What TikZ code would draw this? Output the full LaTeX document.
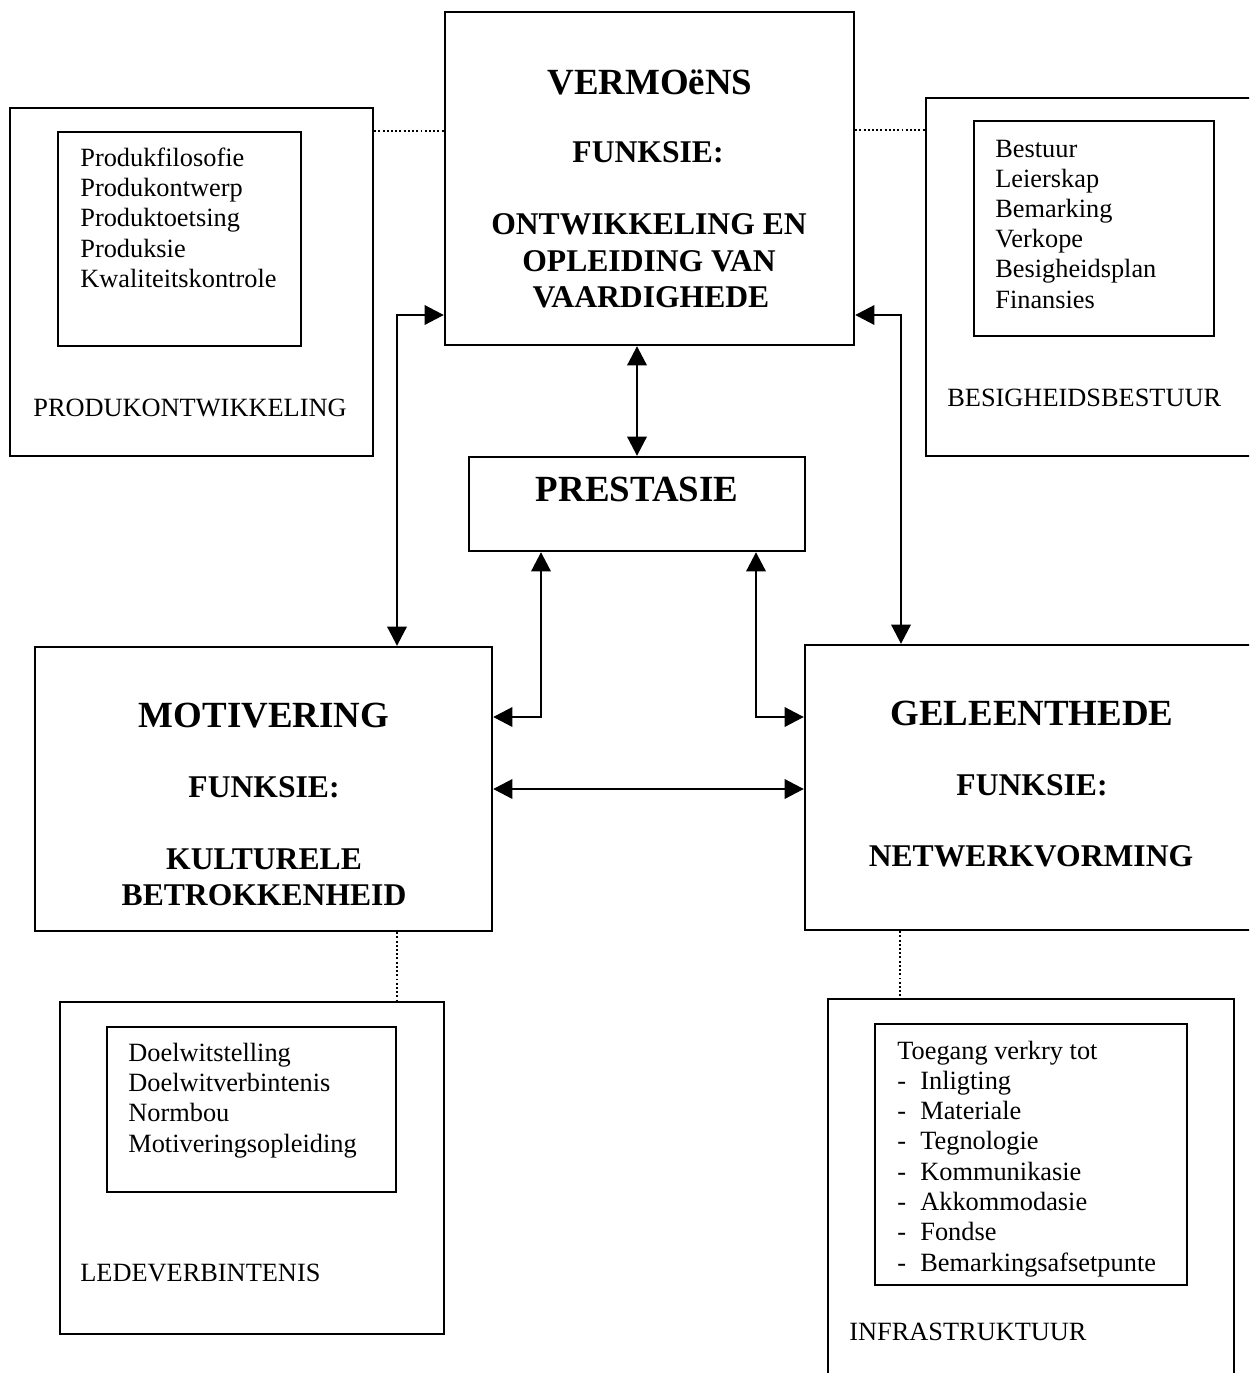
\documentclass[tikz,border=0pt]{standalone}
\usepackage{fontspec}
\setmainfont{Liberation Serif}
\usetikzlibrary{arrows.meta,fit}
\begin{document}
\begin{tikzpicture}[x=0.02cm,y=-0.02cm,
  box/.style={draw, line width=1.3pt, inner sep=0pt},
  dots/.style={line width=0.9pt, dash pattern=on 1.1pt off 1.3pt},
  link/.style={line width=1.6pt,
    {Triangle[length=11pt,width=11pt]}-{Triangle[length=11pt,width=11pt]}},
  head/.style={font=\fontsize{21}{25}\selectfont\bfseries, anchor=base, inner sep=0pt},
  sub/.style={font=\fontsize{18}{22}\selectfont\bfseries, anchor=base, inner sep=0pt},
  item/.style={font=\fontsize{15}{18}\selectfont, anchor=base west, inner sep=0pt},
]
\path[use as bounding box] (0,0) rectangle (1249,1373);
\clip (0,0) rectangle (1249,1373);

% main function boxes
\node[box, fit={(445,12) (854,345)}] (verm) {};
\node[box, fit={(469,457) (805,551)}] (prest) {};
\node[box, fit={(35,647) (492,931)}] (motiv) {};
\node[box, fit={(805,645) (1262,930)}] (geleen) {};

% surrounding area boxes with their inner lists
\node[box, fit={(10,108) (373,456)}] (produk) {};
\node[box, fit={(58,132) (301,346)}] (produkin) {};
\node[box, fit={(926,98) (1262,456)}] (besig) {};
\node[box, fit={(974,121) (1214,336)}] (besigin) {};
\node[box, fit={(60,1002) (444,1334)}] (lede) {};
\node[box, fit={(107,1027) (396,1192)}] (ledein) {};
\node[box, fit={(828,999) (1234,1395)}] (infra) {};
\node[box, fit={(875,1024) (1187,1285)}] (infrain) {};

% headings
\node[head] (vt1) at (650,94) {VERMOëNS};
\node[sub] (vt2) at (648,162) {FUNKSIE:};
\node[sub] (vt3) at (649,234) {ONTWIKKELING EN};
\node[sub] (vt4) at (649,271) {OPLEIDING VAN};
\node[sub] (vt5) at (651,307) {VAARDIGHEDE};

\node[head] (pt1) at (637,501) {PRESTASIE};

\node[head] (mt1) at (264,727) {MOTIVERING};
\node[sub] (mt2) at (264,797) {FUNKSIE:};
\node[sub] (mt3) at (264,869) {KULTURELE};
\node[sub] (mt4) at (264,905) {BETROKKENHEID};

\node[head] (gt1) at (1032,725) {GELEENTHEDE};
\node[sub] (gt2) at (1032,795) {FUNKSIE:};
\node[sub] (gt3) at (1031,866) {NETWERKVORMING};

% lists
\foreach \t [count=\i] in {Produkfilosofie, Produkontwerp, Produktoetsing, Produksie, Kwaliteitskontrole}
  \node[item] (pl\i) at (80,{166+30.4*(\i-1)}) {\t};
\node[item] (plab) at (33,416) {PRODUKONTWIKKELING};

\foreach \t [count=\i] in {Bestuur, Leierskap, Bemarking, Verkope, Besigheidsplan, Finansies}
  \node[item] (bl\i) at (995,{157+30.2*(\i-1)}) {\t};
\node[item] (blab) at (947,406) {BESIGHEIDSBESTUUR};

\foreach \t [count=\i] in {Doelwitstelling, Doelwitverbintenis, Normbou, Motiveringsopleiding}
  \node[item] (ll\i) at (128,{1061+30.4*(\i-1)}) {\t};
\node[item] (llab) at (80,1281) {LEDEVERBINTENIS};

\node[item] (il0) at (897,1059) {Toegang verkry tot};
\foreach \t [count=\i] in {Inligting, Materiale, Tegnologie, Kommunikasie, Akkommodasie, Fondse, Bemarkingsafsetpunte}{
  \node[item] (id\i) at (897,{1059+30.3*\i}) {-};
  \node[item] (il\i) at (920,{1059+30.3*\i}) {\t};
}
\node[item] (ilab) at (849,1340) {INFRASTRUKTUUR};

% bend points of the connectors
\coordinate (la) at (397,315);
\coordinate (ra) at (901,315);
\coordinate (lm) at (541,717);
\coordinate (rm) at (756,717);
\coordinate (mid) at (650,789);

\draw[link] (verm.south -| prest.north) -- (prest.north);
\draw[link] (la -| verm.west) -- (la) -- (la |- motiv.north);
\draw[link] (ra -| verm.east) -- (ra) -- (ra |- geleen.north);
\draw[link] (lm |- prest.south) -- (lm) -- (lm -| motiv.east);
\draw[link] (rm |- prest.south) -- (rm) -- (rm -| geleen.west);
\draw[link] (mid -| motiv.east) -- (mid -| geleen.west);

% dotted ties to the area boxes
\coordinate (d1) at (400,131);
\coordinate (d2) at (890,130);
\coordinate (d3) at (397,960);
\coordinate (d4) at (900,960);
\draw[dots] (d1 -| produk.east) -- (d1 -| verm.west);
\draw[dots] (d2 -| verm.east) -- (d2 -| besig.west);
\draw[dots] (d3 |- motiv.south) -- (d3 |- lede.north);
\draw[dots] (d4 |- geleen.south) -- (d4 |- infra.north);
\end{tikzpicture}
\end{document}
